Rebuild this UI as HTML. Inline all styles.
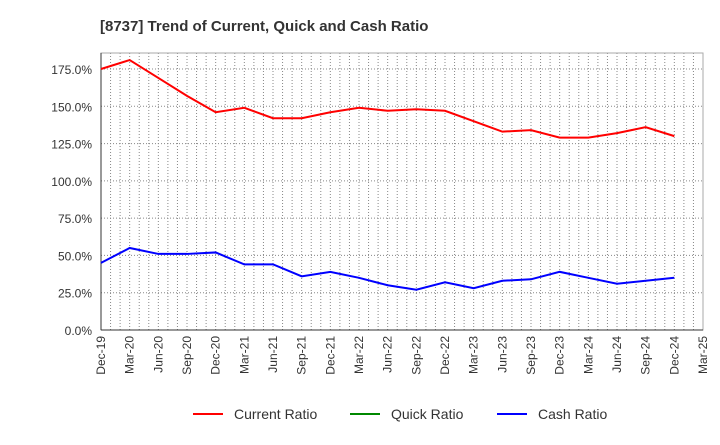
<!DOCTYPE html>
<html><head><meta charset="utf-8"><style>
body{margin:0;background:#fff;width:720px;height:440px;overflow:hidden}
text{font-family:"Liberation Sans",sans-serif}
</style></head><body>
<svg id="c" width="720" height="440"></svg>
<script>
const categories=["Dec-19","Mar-20","Jun-20","Sep-20","Dec-20","Mar-21","Jun-21","Sep-21","Dec-21","Mar-22","Jun-22","Sep-22","Dec-22","Mar-23","Jun-23","Sep-23","Dec-23","Mar-24","Jun-24","Sep-24","Dec-24","Mar-25"];
const currentRatio=[175,181,169,157,146,149,142,142,146,149,147,148,147,140,133,134,129,129,132,136,130];
const quickRatio=[];
const cashRatio=[45,55,51,51,52,44,44,36,39,35,30,27,32,28,33,34,39,35,31,33,35];
const yTicks=[0,25,50,75,100,125,150,175];
const NS="http://www.w3.org/2000/svg",svg=document.getElementById('c');
const L=101,R=703,T=53,B=330;
const x=i=>L+i*(R-L)/(categories.length-1);
const y=v=>B-v*(B-69)/175;
function el(t,a,p){const e=document.createElementNS(NS,t);for(const k in a)e.setAttribute(k,a[k]);(p||svg).appendChild(e);return e;}
const title=el('text',{x:100,y:31,'font-size':15,'font-weight':'bold',fill:'#333'});title.textContent="[8737]  Trend of Current, Quick and Cash Ratio";


const grid=el('g',{});


for(let m=1;m<(categories.length-1)*3;m++){const xx=L+m*(R-L)/((categories.length-1)*3);el('line',{x1:xx,x2:xx,y1:T,y2:B,stroke:'#888','stroke-dasharray':'1,2','stroke-width':1},grid);}
yTicks.forEach(v=>{if(v>0)el('line',{x1:L,x2:R,y1:y(v),y2:y(v),stroke:'#888','stroke-dasharray':'1,2'},grid);
const t=el('text',{x:92,y:y(v)+5,'font-size':12,fill:'#333','text-anchor':'end'});t.textContent=v.toFixed(1)+'%';

});
el('rect',{x:L,y:T,width:R-L,height:B-T,fill:'none',stroke:'#aaa'});
el('line',{x1:L,x2:L,y1:T,y2:B,stroke:'#333'});el('line',{x1:L,x2:R,y1:B,y2:B,stroke:'#333'});
categories.forEach((c,i)=>{const t=el('text',{transform:`translate(${x(i)+4},${B+6}) rotate(-90)`,'font-size':12,fill:'#333','text-anchor':'end'});t.textContent=c;

});
function line(d,col,name){if(!d.length)return;const p=el('polyline',{points:d.map((v,i)=>x(i)+','+y(v)).join(' '),fill:'none',stroke:col,'stroke-width':2});

}
line(currentRatio,'#f00','current-ratio-line');line(quickRatio,'#080','quick-ratio-line');line(cashRatio,'#00f','cash-ratio-line');
[["Current Ratio",'#f00',193],["Quick Ratio",'#080',350],["Cash Ratio",'#00f',497]].forEach(([n,c,lx])=>{const g=el('g',{});


el('line',{x1:lx,x2:lx+30,y1:414,y2:414,stroke:c,'stroke-width':2},g);const t=el('text',{x:lx+41,y:419,'font-size':14,fill:'#333'},g);t.textContent=n;});
</script></body></html>
